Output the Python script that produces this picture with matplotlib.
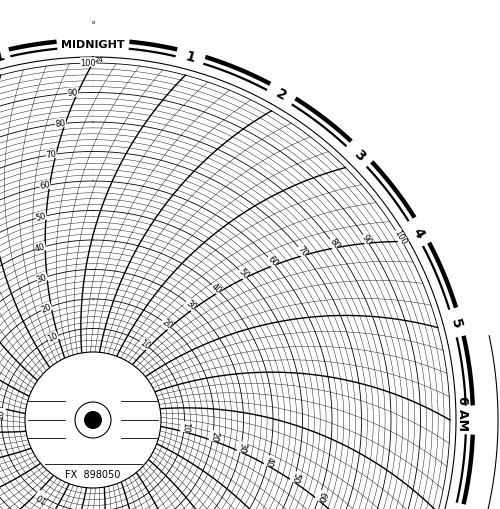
import numpy as np
import matplotlib
matplotlib.use("Agg")
import matplotlib.pyplot as plt

# chart geometry in pixel units of the reference
CX, CY = 93, 421
R0, R100 = 62, 357
HUB_R = 68

hour_labels = ["MIDNIGHT", "1", "2", "3", "4", "5", "6 AM", "7", "8", "9", "10", "11",
               "NOON", "1", "2", "3", "4", "5", "6 PM", "7", "8", "9", "10", "11"]
ring_values = np.arange(0, 101, 2)
value_labels = [10, 20, 30, 40, 50, 60, 70, 80, 90, 100]
label_hours = [0, 4, 8, 16, 20]
minutes_step = 15


def rad(v):
    return R0 + (R100 - R0) * v / 100.0


def arc_theta(t_hours, r):
    beta = np.degrees(np.arccos(np.clip(r / (2 * R100), -1, 1)))
    return t_hours * 15.0 - (beta - 60.0)


def xy(theta_deg, r):
    th = np.radians(theta_deg)
    return CX + r * np.sin(th), CY - r * np.cos(th)


fig = plt.figure(figsize=(5.0, 5.1), dpi=100)
ax = fig.add_axes([0, 0, 1, 1])
ax.set_xlim(0, 500)
ax.set_ylim(510, 0)
ax.axis("off")

# value rings
full = np.linspace(0, 360, 720)
for v in ring_values:
    x, y = xy(full, rad(v))
    lw = 0.6 if v % 10 == 0 else 0.3
    ax.plot(x, y, color="black", lw=lw, zorder=1)
x, y = xy(full, R100 + 6)
ax.plot(x, y, color="black", lw=0.8)

# time arcs
rs = np.linspace(rad(0), R100, 200)
for k in range(24 * 60 // minutes_step):
    t = k * minutes_step / 60.0
    x, y = xy(arc_theta(t, rs), rs)
    lw = 1.0 if k % (60 // minutes_step) == 0 else 0.3
    ax.plot(x, y, color="black", lw=lw, zorder=1)

# value labels along arcs
for h in label_hours:
    for v in value_labels:
        r = rad(v) + 1
        th = arc_theta(h, r) - 3.0 * 100 / r
        x, y = xy(th, r)
        ax.text(x, y, str(v), fontsize=6, ha="center", va="center",
                rotation=-th, rotation_mode="anchor", zorder=3,
                bbox=dict(fc="white", ec="none", pad=0.2))
x, y = xy(arc_theta(0, R100) + 0.3, R100 + 1)
ax.text(x, y, "24", fontsize=5, ha="left", va="bottom", zorder=3)

# outer hour band, continuous with small gaps at the hour labels
half_gap = [5.5 if len(lab) > 4 else 2.2 for lab in hour_labels]
for h in range(24):
    a0 = h * 15 + half_gap[h]
    a1 = (h + 1) * 15 - half_gap[(h + 1) % 24]
    seg = np.linspace(a0, a1, 60)
    x, y = xy(seg, 380)
    ax.plot(x, y, color="black", lw=3.2, solid_capstyle="butt")
    x, y = xy(seg, 373)
    ax.plot(x, y, color="black", lw=1.6, solid_capstyle="butt")
for h, lab in enumerate(hour_labels):
    if " " in lab:
        x, y = xy(h * 15 - 1.2, 376)
        ax.text(x, y, lab, fontsize=9, fontweight="bold", ha="center", va="top",
                rotation=-90, rotation_mode="anchor")
        continue
    x, y = xy(h * 15, 376)
    ax.text(x, y, lab, fontsize=8 if len(lab) > 2 else 10, fontweight="bold",
            ha="center", va="center", rotation=-h * 15)

# outer thin arc on the right
seg = np.linspace(78, 115, 60)
x, y = xy(seg, 405)
ax.plot(x, y, color="black", lw=0.8)
ax.text(CX, 22, "o", fontsize=4, ha="center", va="center")

# hub
ax.add_patch(plt.Circle((CX, CY), HUB_R, fc="white", ec="black", lw=0.8, zorder=4))
ax.add_patch(plt.Circle((CX, CY), 18, fc="white", ec="black", lw=0.8, zorder=5))
ax.add_patch(plt.Circle((CX, CY), 9, fc="black", ec="none", zorder=6))
for dy in (-19, 0, 18):
    ax.plot([CX - 65, CX - 28], [CY + dy, CY + dy], color="black", lw=0.6, zorder=5)
    ax.plot([CX + 28, CX + 65], [CY + dy, CY + dy], color="black", lw=0.6, zorder=5)
ax.plot([CX - 48, CX + 49], [CY + 44, CY + 44], color="black", lw=0.6, zorder=5)
ax.text(CX, CY + 54, "FX  898050", fontsize=7, ha="center", va="center", zorder=6)

fig.savefig("out.png", dpi=100)
